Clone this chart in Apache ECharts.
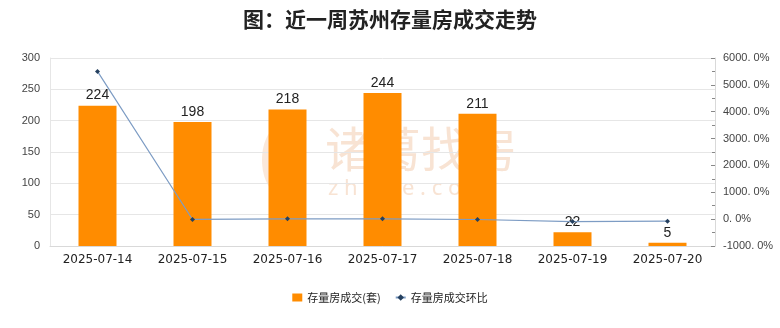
<!DOCTYPE html>
<html><head><meta charset="utf-8">
<script src="https://cdn.jsdelivr.net/npm/echarts@6/dist/echarts.min.js"></script>
<style>html,body{margin:0;padding:0;background:#fff}#c{width:780px;height:328px}</style>
</head><body><div id="c"></div>
<script>
var categories = ['2025-07-14','2025-07-15','2025-07-16','2025-07-17','2025-07-18','2025-07-19','2025-07-20'];
var deals = [224, 198, 218, 244, 211, 22, 5];
var ratio = [5500, -11.6, 10.1, 11.9, -13.5, -89.6, -77.3];
var chart = echarts.init(document.getElementById('c'));
chart.setOption({
  animation: false,
  title: {text: '图：近一周苏州存量房成交走势', left: 'center', top: 4,
    textStyle: {fontSize: 21, fontWeight: 'bold', color: '#222', fontFamily: 'Noto Sans CJK SC'}},
  graphic: [
    {type: 'ellipse', z: 0, shape: {cx: 282, cy: 160, rx: 20, ry: 35}, style: {fill: 'rgba(245,205,175,0.45)'}},
    {type: 'text', z: 0, left: 325, top: 125, style: {text: '诸葛找房', fontSize: 48, fill: 'rgba(242,200,168,0.5)', fontFamily: 'Noto Sans CJK SC'}},
    {type: 'text', z: 0, left: 328, top: 178, style: {text: 'z h u g e . c o m', fontSize: 22, fill: 'rgba(242,200,168,0.5)', fontFamily: 'Noto Sans'}}],
  legend: {bottom: 20, itemGap: 14, itemWidth: 10, itemHeight: 8,
    textStyle: {fontSize: 11, color: '#222', fontFamily: 'Noto Sans CJK SC'},
    data: [{name: '存量房成交(套)', icon: 'rect', itemStyle: {}}, {name: '存量房成交环比'}]},
  grid: {left: 50, right: 65, top: 58, bottom: 82},
  xAxis: {type: 'category', data: categories,
    axisLine: {lineStyle: {color: '#d9d9d9'}}, axisTick: {show: false},
    axisLabel: {color: '#222', fontSize: 12, margin: 8, fontFamily: 'DejaVu Sans'}},
  yAxis: [
    {type: 'value', min: 0, max: 300, interval: 50,
     axisLine: {show: true, lineStyle: {color: '#e6e6e6'}},
     axisLabel: {color: '#444', fontSize: 11, margin: 10},
     splitLine: {lineStyle: {color: '#e6e6e6'}}},
    {type: 'value', min: -1000, max: 6000, interval: 1000,
     axisLine: {show: true, lineStyle: {color: '#d9d9d9'}},
     axisTick: {show: true, inside: true, length: 4, lineStyle: {color: '#888'}},
     minorTick: {show: true, splitNumber: 2, length: 3, lineStyle: {color: '#888'}},
     axisLabel: {color: '#444', fontSize: 11, margin: 8,
       formatter: function(v){ return v.toFixed(1).replace('.', '. ') + '%'; }},
     splitLine: {show: false}}
  ],
  series: [
    {name: '存量房成交(套)', type: 'bar', data: deals, barWidth: 38, z: 3,
     itemStyle: {color: '#ff8c00'},
     label: {show: true, position: 'top', color: '#222', fontSize: 14, distance: 3}},
    {name: '存量房成交环比', type: 'line', yAxisIndex: 1, data: ratio, z: 4,
     symbol: 'diamond', symbolSize: 5,
     lineStyle: {color: '#7d9cc4', width: 1.2},
     itemStyle: {color: '#25405f'}}
  ]
});
</script></body></html>
